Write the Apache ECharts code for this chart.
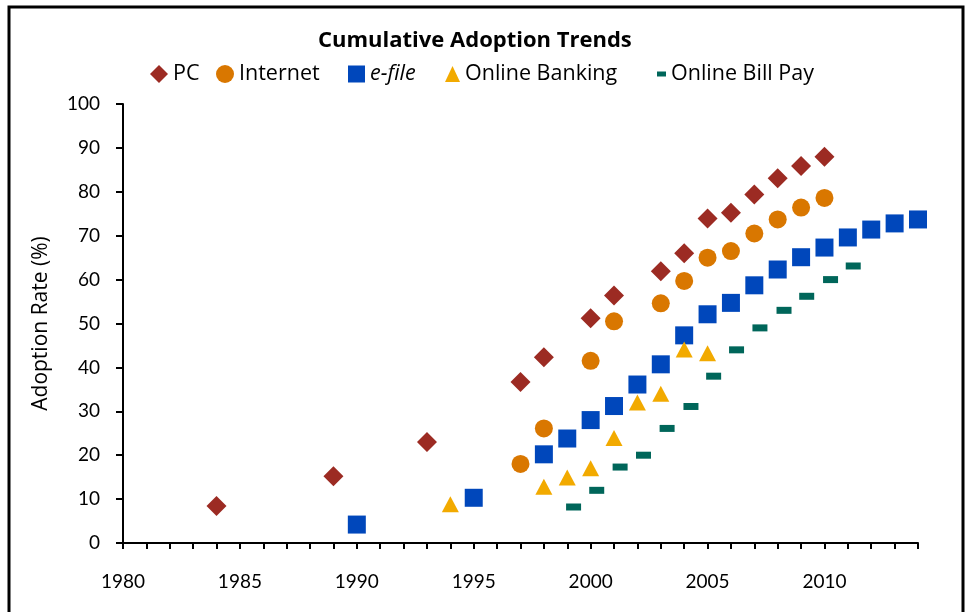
<!DOCTYPE html>
<html>
<head>
<meta charset="utf-8">
<script src="https://cdn.jsdelivr.net/npm/echarts@6/dist/echarts.min.js"></script>
<style>
  html, body { margin: 0; padding: 0; background: #fff; }
  #adoptionChartID { width: 968px; height: 612px; }
</style>
</head>
<body>
<div id="adoptionChartID"></div>
<script>
var pcYears = [1984, 1989, 1993, 1997, 1998, 2000, 2001, 2003, 2004, 2005, 2006, 2007, 2008, 2009, 2010];
var pcRates = [8.4, 15.2, 23.0, 36.7, 42.3, 51.2, 56.4, 61.9, 66.0, 73.9, 75.2, 79.4, 83.1, 85.9, 88.0];

var internetYears = [1997, 1998, 2000, 2001, 2003, 2004, 2005, 2006, 2007, 2008, 2009, 2010];
var internetRates = [18.0, 26.1, 41.5, 50.5, 54.6, 59.7, 65.0, 66.5, 70.5, 73.7, 76.4, 78.6];

var efileYears = [1990, 1995, 1998, 1999, 2000, 2001, 2002, 2003, 2004, 2005, 2006, 2007, 2008, 2009, 2010, 2011, 2012, 2013, 2014];
var efileRates = [4.2, 10.3, 20.2, 23.8, 28.0, 31.2, 36.1, 40.7, 47.3, 52.1, 54.7, 58.7, 62.3, 65.1, 67.3, 69.6, 71.4, 72.8, 73.7];

var bankingYears = [1994, 1998, 1999, 2000, 2001, 2002, 2003, 2004, 2005];
var bankingRates = [8.8, 12.8, 14.9, 17.0, 23.9, 32.0, 34.0, 44.1, 43.2];

var billPayYears = [1999.27, 2000.26, 2001.26, 2002.26, 2003.27, 2004.29, 2005.26, 2006.24, 2007.24, 2008.27, 2009.24, 2010.26, 2011.23];
var billPayRates = [8.2, 12.0, 17.3, 20.0, 26.1, 31.1, 38.0, 44.0, 49.0, 53.0, 56.2, 60.0, 63.1];

var seriesNames = ['PC', 'Internet', 'e-file', 'Online Banking', 'Online Bill Pay'];

function pairs(xs, ys) {
    return xs.map(function (x, i) { return [x, ys[i]]; });
}

var FONT = 'Lato';
var TEXT_FONT = 'Open Sans';

var adoptionChart = echarts.init(document.getElementById('adoptionChartID'), null, { renderer: 'canvas' });

function legendAt(name, left, icon, w, h) {
    return {
        left: left,
        top: 58,
        itemWidth: w,
        itemHeight: h,
        data: [{ name: name, icon: icon }],
        selectedMode: false,
        formatter: function (n) { return n === 'e-file' ? '{i|e-file}' : n; },
        textStyle: {
            fontFamily: TEXT_FONT,
            fontSize: 21.5,
            color: '#000',
            rich: { i: { fontStyle: 'italic', fontFamily: TEXT_FONT, fontSize: 21.5, color: '#000' } }
        }
    };
}

var option_adoption = {
    animation: false,
    backgroundColor: '#fff',
    title: {
        text: 'Cumulative Adoption Trends',
        left: 313,
        top: 25,
        textStyle: {
            fontFamily: TEXT_FONT,
            fontSize: 22,
            fontWeight: 'bold',
            color: '#000'
        }
    },
    legend: [
        legendAt('PC', 145, 'diamond', 18, 18),
        legendAt('Internet', 211, 'circle', 18, 18),
        legendAt('e-file', 343, 'rect', 17, 17),
        legendAt('Online Banking', 440, 'triangle', 15, 16),
        legendAt('Online Bill Pay', 652, 'rect', 9, 5)
    ],
    grid: {
        left: 123,
        right: 50,
        top: 104,
        bottom: 69,
        containLabel: false,
        outerBoundsMode: 'none'
    },
    xAxis: {
        type: 'value',
        min: 1980,
        max: 2014,
        interval: 1,
        splitLine: { show: false },
        axisLine: { lineStyle: { color: '#000', width: 2 } },
        axisTick: { inside: false, length: 6, lineStyle: { color: '#000', width: 2 } },
        axisLabel: {
            margin: 29,
            fontFamily: FONT,
            fontSize: 19,
            color: '#000',
            formatter: function (v) { return v % 5 === 0 ? String(v) : ''; }
        }
    },
    yAxis: {
        type: 'value',
        min: 0,
        max: 100,
        interval: 10,
        name: 'Adoption Rate (%)',
        nameLocation: 'middle',
        nameGap: 71,
        nameTextStyle: { fontFamily: TEXT_FONT, fontSize: 21, color: '#000' },
        splitLine: { show: false },
        axisLine: { show: true, lineStyle: { color: '#000', width: 2 } },
        axisTick: { show: true, length: 7, lineStyle: { color: '#000', width: 2 } },
        axisLabel: {
            margin: 23,
            fontFamily: FONT,
            fontSize: 19,
            color: '#000'
        }
    },
    graphic: [
        {
            type: 'rect',
            silent: true,
            shape: { x: 9, y: 7, width: 954, height: 700 },
            style: { fill: 'none', stroke: '#000', lineWidth: 3 }
        }
    ],
    series: [
        {
            name: seriesNames[0],
            type: 'scatter',
            symbol: 'diamond',
            symbolSize: [20, 20],
            itemStyle: { color: '#9C2B23', opacity: 1 },
            data: pairs(pcYears, pcRates)
        },
        {
            name: seriesNames[1],
            type: 'scatter',
            symbol: 'circle',
            symbolSize: 18,
            itemStyle: { color: '#D97700', opacity: 1 },
            data: pairs(internetYears, internetRates)
        },
        {
            name: seriesNames[2],
            type: 'scatter',
            symbol: 'rect',
            symbolSize: 18,
            itemStyle: { color: '#0047BB', opacity: 1 },
            data: pairs(efileYears, efileRates)
        },
        {
            name: seriesNames[3],
            type: 'scatter',
            symbol: 'triangle',
            symbolSize: [17, 16],
            itemStyle: { color: '#F2AA00', opacity: 1 },
            data: pairs(bankingYears, bankingRates)
        },
        {
            name: seriesNames[4],
            type: 'scatter',
            symbol: 'rect',
            symbolSize: [15, 7],
            itemStyle: { color: '#00665A', opacity: 1 },
            data: pairs(billPayYears, billPayRates)
        }
    ]
};

option_adoption && adoptionChart.setOption(option_adoption);
</script>
</body>
</html>
